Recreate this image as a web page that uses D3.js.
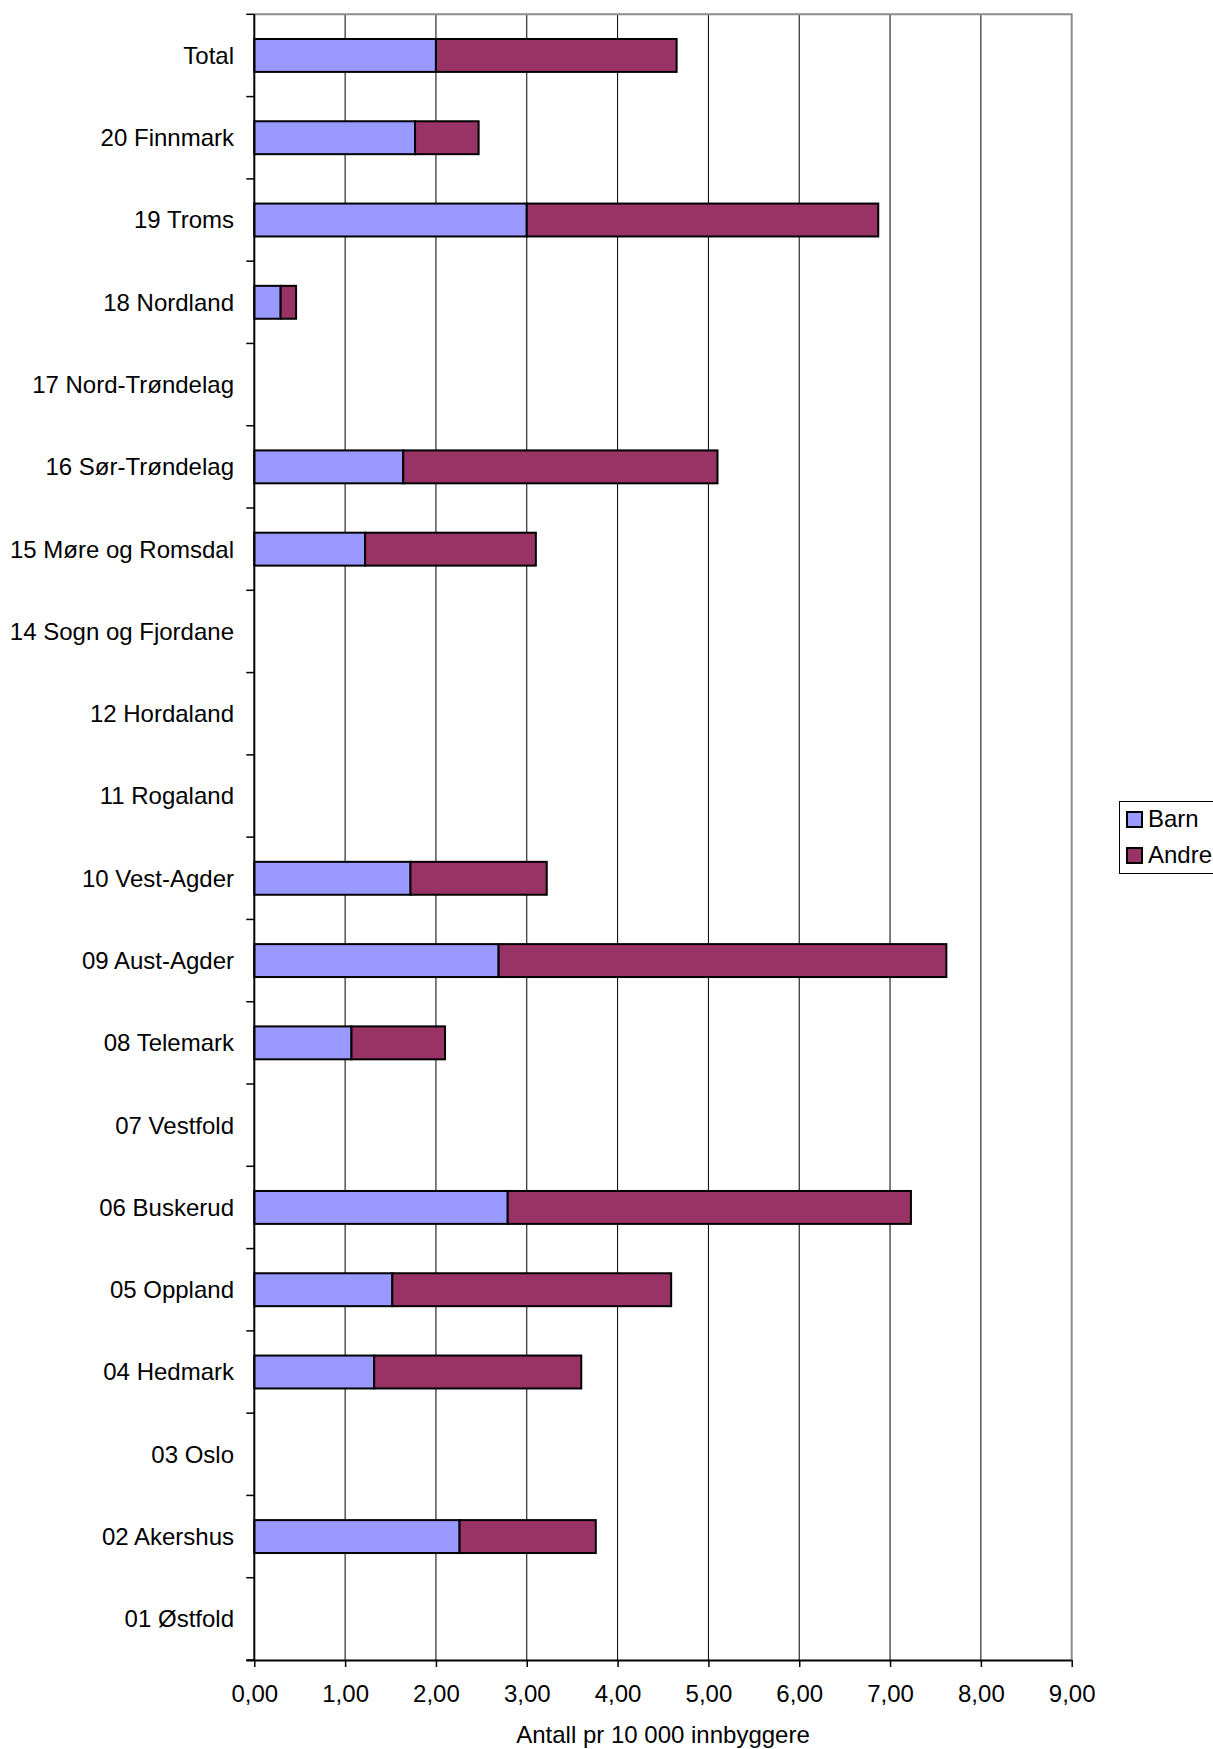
<!DOCTYPE html>
<html>
<head>
<meta charset="utf-8">
<script src="https://cdn.jsdelivr.net/npm/d3@7"></script>
<style>
  html, body { margin: 0; padding: 0; background: #fff; }
  svg { display: block; }
  text { font-family: "Liberation Sans", Arial, sans-serif; fill: #000; }
</style>
</head>
<body>
<svg id="chart" width="1213" height="1749"></svg>
<script>
// Counties, top to bottom as drawn
const categories = [
  "Total", "20 Finnmark", "19 Troms", "18 Nordland", "17 Nord-Trøndelag",
  "16 Sør-Trøndelag", "15 Møre og Romsdal", "14 Sogn og Fjordane",
  "12 Hordaland", "11 Rogaland", "10 Vest-Agder", "09 Aust-Agder",
  "08 Telemark", "07 Vestfold", "06 Buskerud", "05 Oppland",
  "04 Hedmark", "03 Oslo", "02 Akershus", "01 Østfold"
];
// Rate per 10 000 inhabitants (null = no data)
const barn = [
  2.00, 1.77, 3.00, 0.29, null,
  1.64, 1.22, null,
  null, null, 1.72, 2.69,
  1.07, null, 2.79, 1.52,
  1.32, null, 2.26, null
];
const andre = [
  2.65, 0.70, 3.87, 0.17, null,
  3.46, 1.88, null,
  null, null, 1.50, 4.93,
  1.03, null, 4.44, 3.07,
  2.28, null, 1.50, null
];
const seriesNames = ["Barn", "Andre"];
const seriesColors = ["#9999FF", "#993366"];
const xTicks = [0, 1, 2, 3, 4, 5, 6, 7, 8, 9];
const xTitle = "Antall pr 10 000 innbyggere";

const FONT = "'Liberation Sans', Arial, sans-serif";
const svg = d3.select("#chart");
const plot = { left: 254.3, right: 1071.7, top: 14.3, bottom: 1660 };

const x = d3.scaleLinear().domain([0, 9]).range([plot.left, plot.right]);
const y = d3.scaleBand().domain(categories).range([plot.top, plot.bottom])
  .paddingInner(0.6).paddingOuter(0.3);
const band = d3.scaleBand().domain(categories).range([plot.top, plot.bottom]);

const fmt = v => d3.format(".2f")(v).replace(".", ",");

// Vertical gridlines
svg.append("g")
  .selectAll("line")
  .data(xTicks.slice(1, -1))
  .join("line")
  .attr("x1", d => x(d)).attr("x2", d => x(d))
  .attr("y1", plot.top).attr("y2", plot.bottom)
  .attr("stroke", "#000").attr("stroke-width", 1);

// Plot frame: top and right edges
svg.append("path")
  .attr("d", `M${plot.left},${plot.top}H${plot.right}V${plot.bottom}`)
  .attr("fill", "none").attr("stroke", "#8c8c8c").attr("stroke-width", 2);

// Stacked bars
const stacked = categories.map((c, i) => ({
  cat: c,
  segs: [
    { key: 0, x0: 0, x1: barn[i] || 0, has: barn[i] != null },
    { key: 1, x0: barn[i] || 0, x1: (barn[i] || 0) + (andre[i] || 0), has: andre[i] != null }
  ]
}));
const barG = svg.append("g");
stacked.forEach(row => {
  row.segs.filter(s => s.has).forEach(s => {
    barG.append("rect")
      .attr("x", x(s.x0))
      .attr("y", y(row.cat))
      .attr("width", x(s.x1) - x(s.x0))
      .attr("height", y.bandwidth())
      .attr("fill", seriesColors[s.key])
      .attr("stroke", "#000")
      .attr("stroke-width", 2);
  });
});

// X axis
const xAxis = d3.axisBottom(x).tickValues(xTicks).tickFormat(fmt).tickSize(7).tickPadding(18);
const gx = svg.append("g").attr("transform", `translate(0,${plot.bottom})`).call(xAxis)
  .attr("font-family", FONT).attr("font-size", 24);
gx.select(".domain").attr("stroke", "#000").attr("stroke-width", 2)
  .attr("d", `M${plot.left - 8},0.5H${plot.right}`);
gx.selectAll(".tick line").attr("stroke", "#000").attr("stroke-width", 1.5);
gx.selectAll(".tick text").style("font-family", FONT).style("font-size", "24px").attr("fill", "#000");

// Y axis: ticks at category boundaries, labels centred in each band
const boundaries = d3.range(categories.length + 1).map(i => plot.top + i * band.step());
svg.append("line")
  .attr("x1", plot.left).attr("x2", plot.left)
  .attr("y1", plot.top).attr("y2", plot.bottom)
  .attr("stroke", "#000").attr("stroke-width", 2);
svg.append("g").selectAll("line")
  .data(boundaries)
  .join("line")
  .attr("x1", plot.left - 8).attr("x2", plot.left)
  .attr("y1", d => d).attr("y2", d => d)
  .attr("stroke", "#000").attr("stroke-width", 1.5);
svg.append("g").selectAll("text")
  .data(categories)
  .join("text")
  .attr("x", 234)
  .attr("y", d => band(d) + band.bandwidth() / 2)
  .attr("dy", "0.35em")
  .attr("text-anchor", "end")
  .style("font-family", FONT)
  .style("font-size", "24px")
  .text(d => d);

// X axis title
svg.append("text")
  .attr("x", (plot.left + plot.right) / 2)
  .attr("y", 1743)
  .attr("text-anchor", "middle")
  .style("font-family", FONT)
  .style("font-size", "24px")
  .text(xTitle);

// Legend
const lg = svg.append("g");
lg.append("rect")
  .attr("x", 1119.5).attr("y", 801.5)
  .attr("width", 110).attr("height", 72)
  .attr("fill", "#fff").attr("stroke", "#000").attr("stroke-width", 1);
seriesNames.forEach((name, i) => {
  const yy = 812 + i * 36;
  lg.append("rect")
    .attr("x", 1127).attr("y", yy)
    .attr("width", 15).attr("height", 15)
    .attr("fill", seriesColors[i]).attr("stroke", "#000").attr("stroke-width", 2);
  lg.append("text")
    .attr("x", 1148).attr("y", yy + 15)
    .style("font-family", FONT)
    .style("font-size", "24px")
    .text(name);
});
</script>
</body>
</html>
